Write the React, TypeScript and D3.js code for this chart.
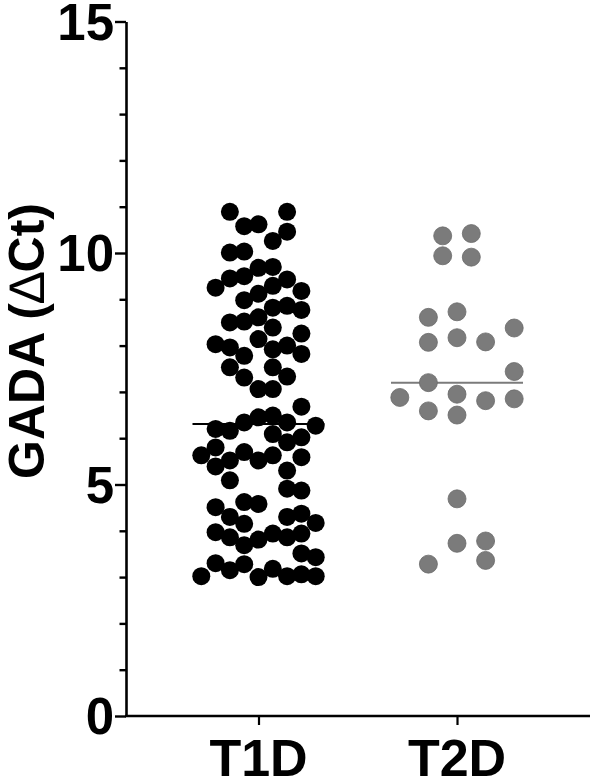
import * as d3 from "d3";
import { useEffect, useRef } from "react";

const groups = ["T1D", "T2D"];

// values, with the lane (column of the scatter) of each dot
const t1dValues = [
  10.89, 10.89, 10.58, 10.62, 10.46, 10.26, 10.01, 10.03, 9.68, 9.7,
  9.25, 9.45, 9.5, 9.43, 9.29, 9.18, 9.12, 8.98, 8.82, 8.86,
  8.77, 8.5, 8.52, 8.61, 8.39, 8.26, 8.14, 8.03, 7.96, 7.92,
  8.0, 7.82, 7.78, 7.53, 7.53, 7.31, 7.33, 7.06, 7.06, 6.68,
  6.2, 6.16, 6.34, 6.45, 6.49, 6.34, 6.27, 6.09, 5.91, 6.02,
  5.8, 5.63, 5.7, 5.52, 5.63, 5.59, 5.39, 5.52, 5.3, 5.09,
  4.91, 4.87, 4.51, 4.62, 4.58, 4.3, 4.15, 4.3, 4.37, 4.17,
  3.97, 3.86, 3.69, 3.81, 3.94, 3.86, 3.94, 3.51, 3.43, 3.3,
  3.15, 3.28, 3.02, 3.0, 3.18, 3.02, 3.06, 3.02,
];
const t1dLanes = [
  -2, 2, -1, 0, 2, 1, -2, -1, 0, 1,
  -3, -2, -1, 2, 1, 3, 0, -1, 1, 2,
  3, -2, -1, 0, 1, 3, 0, -3, -2, 1,
  2, 3, -1, -2, 1, -1, 2, 0, 1, 3,
  -3, -2, -1, 0, 1, 2, 4, 1, 2, 3,
  -3, -4, -1, 0, 1, 3, -3, -2, 2, -2,
  2, 3, -3, -1, 0, -2, -1, 2, 3, 4,
  -3, -2, -1, 0, 1, 2, 3, 3, 4, -3,
  -2, -1, -4, 0, 1, 2, 3, 4,
];

const t2dValues = [
  10.37, 10.42, 9.94, 9.91, 8.61, 8.73, 8.38, 8.07, 8.17, 8.08,
  7.44, 7.2, 6.88, 6.95, 6.81, 6.85, 6.59, 6.5, 4.69, 3.73,
  3.78, 3.36, 3.28,
];
const t2dLanes = [
  -1, 1, -1, 1, -2, 0, 4, -2, 0, 2,
  4, -2, -4, 0, 2, 4, -2, 0, 0, 0,
  2, 2, -2,
];

const yMajorTicks = [0, 5, 10, 15];
const yAllTicks = d3.range(0, 16);

const W = 591;
const H = 778;
const FONT = "'Liberation Sans', Arial, Helvetica, sans-serif";

export default function App() {
  const ref = useRef<SVGSVGElement | null>(null);

  useEffect(() => {
    if (!ref.current) return;
    const svg = d3.select(ref.current);
    svg.selectAll("*").remove();

    const axisX = 126;
    const y = d3.scaleLinear().domain([0, 15]).range([716, 21.5]);
    const x = d3.scalePoint<string>().domain(groups).range([258.5, 457]);
    const lane = d3.scaleLinear().domain([-1, 1]).range([-14.3, 14.3]);
    const r = 9;
    const halfMedian = 66;

    const series = [
      { name: "T1D", values: t1dValues, lanes: t1dLanes, fill: "#000000", stroke: "none", line: "#000000" },
      { name: "T2D", values: t2dValues, lanes: t2dLanes, fill: "#7b7b7b", stroke: "#6a6a6a", line: "#7b7b7b" },
    ];

    // median lines sit behind the dots
    series.forEach((s) => {
      const cx = x(s.name) ?? 0;
      const med = d3.median(s.values) ?? 0;
      svg.append("line")
        .attr("x1", cx - halfMedian)
        .attr("x2", cx + halfMedian)
        .attr("y1", y(med))
        .attr("y2", y(med))
        .attr("stroke", s.line)
        .attr("stroke-width", 2);
    });

    series.forEach((s) => {
      const cx = x(s.name) ?? 0;
      svg.append("g")
        .selectAll("circle")
        .data(s.values.map((v, i) => ({ v, l: s.lanes[i] })))
        .enter()
        .append("circle")
        .attr("cx", (d) => cx + lane(d.l))
        .attr("cy", (d) => y(d.v))
        .attr("r", r)
        .attr("fill", s.fill)
        .attr("stroke", s.stroke)
        .attr("stroke-width", 0.8);
    });

    // y axis
    const yAxis = svg.append("g")
      .attr("transform", `translate(${axisX},0)`)
      .call(
        d3.axisLeft(y)
          .tickValues(yAllTicks)
          .tickSize(0)
          .tickSizeOuter(0)
          .tickFormat(() => "")
      );
    yAxis.select(".domain").attr("stroke", "#000").attr("stroke-width", 2.6);
    yAxis.selectAll(".tick line")
      .attr("x2", (d) => (yMajorTicks.includes(d as number) ? -11 : -6.5))
      .attr("stroke", "#000")
      .attr("stroke-width", 2.4);
    yAxis.selectAll(".tick text").remove();

    svg.append("g")
      .selectAll("text")
      .data(yMajorTicks)
      .enter()
      .append("text")
      .attr("x", 114)
      .attr("y", (d) => y(d) + 18)
      .attr("text-anchor", "end")
      .attr("font-family", FONT)
      .attr("font-weight", "bold")
      .attr("font-size", 51)
      .attr("fill", "#000")
      .text((d) => d);

    // x axis
    const xAxis = svg.append("g")
      .attr("transform", `translate(0,${y(0)})`)
      .call(
        d3.axisBottom(x)
          .tickSize(9)
          .tickSizeOuter(0)
          .tickFormat(() => "")
      );
    xAxis.select(".domain")
      .attr("d", `M${axisX - 1},0H590`)
      .attr("stroke", "#000")
      .attr("stroke-width", 2.4);
    xAxis.selectAll(".tick line").attr("stroke", "#000").attr("stroke-width", 2.2);

    svg.append("g")
      .selectAll("text")
      .data(groups)
      .enter()
      .append("text")
      .attr("x", (d) => x(d) ?? 0)
      .attr("y", 776)
      .attr("text-anchor", "middle")
      .attr("font-family", FONT)
      .attr("font-weight", "bold")
      .attr("font-size", 52)
      .attr("fill", "#000")
      .text((d) => d);

    // y title
    const title = svg.append("text")
      .attr("transform", "translate(44,341) rotate(-90)")
      .attr("text-anchor", "middle")
      .attr("font-family", FONT)
      .attr("font-weight", "bold")
      .attr("font-size", 50)
      .attr("fill", "#000");
    title.append("tspan").text("GADA (");
    title.append("tspan").attr("font-weight", "normal").text("\u2206");
    title.append("tspan").text("Ct)");
  }, []);

  return (
    <svg
      ref={ref}
      width={W}
      height={H}
      viewBox={`0 0 ${W} ${H}`}
      style={{ position: "absolute", left: 0, top: 0, background: "#fff" }}
    />
  );
}
